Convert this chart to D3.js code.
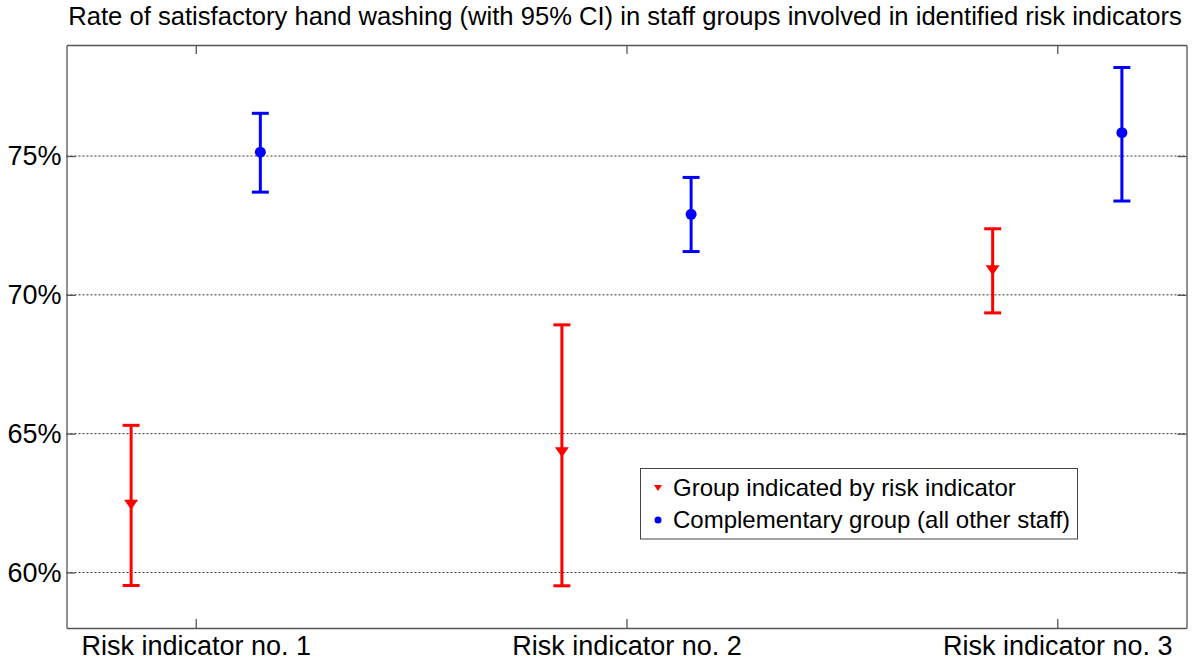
<!DOCTYPE html>
<html><head><meta charset="utf-8">
<script src="https://cdn.jsdelivr.net/npm/d3@7"></script>
<style>body{margin:0;background:#fff}svg{display:block}text{font-family:"Liberation Sans",Arial,sans-serif}</style>
</head><body><svg id="c" width="1200" height="664"></svg>
<script>
const categories = ["Risk indicator no. 1","Risk indicator no. 2","Risk indicator no. 3"];
const groupMean  = [62.44, 64.33, 70.89];
const groupLow   = [59.53, 59.52, 69.35];
const groupHigh  = [65.30, 68.92, 72.38];
const compMean   = [75.14, 72.90, 75.84];
const compLow    = [73.70, 71.56, 73.38];
const compHigh   = [76.54, 74.23, 78.19];
const yTicks     = [60, 65, 70, 75];
const seriesNames = ["Group indicated by risk indicator","Complementary group (all other staff)"];

const svg = d3.select("#c");
const L=66.5, R=1186.5, T=45, B=628;
const x = d3.scaleLinear().domain([0.7,3.3]).range([L,R]);
const y = d3.scaleLinear().domain([58,79]).range([B,T]);

// title
svg.append("text").attr("x",625).attr("y",25).attr("text-anchor","middle")
  .attr("font-size",25.6).text("Rate of satisfactory hand washing (with 95% CI) in staff groups involved in identified risk indicators");

// grid
svg.append("g").selectAll("line").data(yTicks).join("line")
  .attr("x1",L).attr("x2",R).attr("y1",d=>y(d)).attr("y2",d=>y(d))
  .attr("stroke","#333").attr("stroke-width",1).attr("stroke-dasharray","2,2");

// axes
const ax = svg.append("g").attr("transform",`translate(0,${B})`)
  .call(d3.axisBottom(x).tickValues([1,2,3]).tickFormat((d,i)=>categories[i]).tickSizeInner(-9).tickSizeOuter(0));
const ay = svg.append("g").attr("transform",`translate(${L},0)`)
  .call(d3.axisLeft(y).tickValues(yTicks).tickFormat(d=>d+"%").tickSizeInner(-9).tickSizeOuter(0).tickPadding(5));
const axTop = svg.append("g").attr("transform",`translate(0,${T})`)
  .call(d3.axisTop(x).tickValues([1,2,3]).tickFormat("").tickSizeInner(-9).tickSizeOuter(0));
const ayR = svg.append("g").attr("transform",`translate(${R},0)`)
  .call(d3.axisRight(y).tickValues(yTicks).tickFormat("").tickSizeInner(-9).tickSizeOuter(0));
[ax,ay,axTop,ayR].forEach(g=>{
  g.selectAll(".domain").attr("stroke","#555").attr("stroke-width",1.3);
  g.selectAll(".tick line").attr("stroke","#555").attr("stroke-width",1.3);
  g.selectAll("text").attr("font-size",27).attr("fill","#000").attr("font-family","Liberation Sans, Arial, sans-serif");
});
ax.selectAll("text").attr("y",27).attr("dy",0);

function series(mean,low,high,offset,color,marker){
  const g = svg.append("g");
  const idx = d3.range(mean.length);
  const cx = i=>x(i+1+offset);
  g.selectAll(".v").data(idx).join("line").attr("x1",cx).attr("x2",cx)
    .attr("y1",i=>y(low[i])).attr("y2",i=>y(high[i])).attr("stroke",color).attr("stroke-width",3);
  [low,high].forEach(arr=>{
    g.selectAll(null).data(idx).join("line").attr("x1",i=>cx(i)-8.5).attr("x2",i=>cx(i)+8.5)
      .attr("y1",i=>y(arr[i])).attr("y2",i=>y(arr[i])).attr("stroke",color).attr("stroke-width",3);
  });
  if(marker==="tri"){
    g.selectAll(".m").data(idx).join("path")
      .attr("d",i=>{const X=cx(i),Y=y(mean[i]);return `M${X-7},${Y-5}L${X+7},${Y-5}L${X},${Y+5}Z`;})
      .attr("fill",color);
  } else {
    g.selectAll(".m").data(idx).join("circle").attr("cx",cx).attr("cy",i=>y(mean[i])).attr("r",5.5).attr("fill",color);
  }
}
series(groupMean,groupLow,groupHigh,-0.15,"#f00","tri");
series(compMean,compLow,compHigh,0.15,"#00f","dot");

// legend
const lg = svg.append("g");
lg.append("rect").attr("x",640.5).attr("y",468.5).attr("width",437).attr("height",70.5)
  .attr("fill","#fff").attr("stroke","#444").attr("stroke-width",1);
const ly = [488, 520];
lg.append("path").attr("d",`M${658-4},${ly[0]-3}L${658+4},${ly[0]-3}L${658},${ly[0]+3}Z`).attr("fill","#f00");
lg.append("circle").attr("cx",658).attr("cy",ly[1]).attr("r",3.5).attr("fill","#00f");
lg.selectAll("text").data(seriesNames).join("text").attr("x",673).attr("y",(d,i)=>ly[i]).attr("dy","0.35em")
  .attr("font-size",24).text(d=>d);
</script></body></html>
